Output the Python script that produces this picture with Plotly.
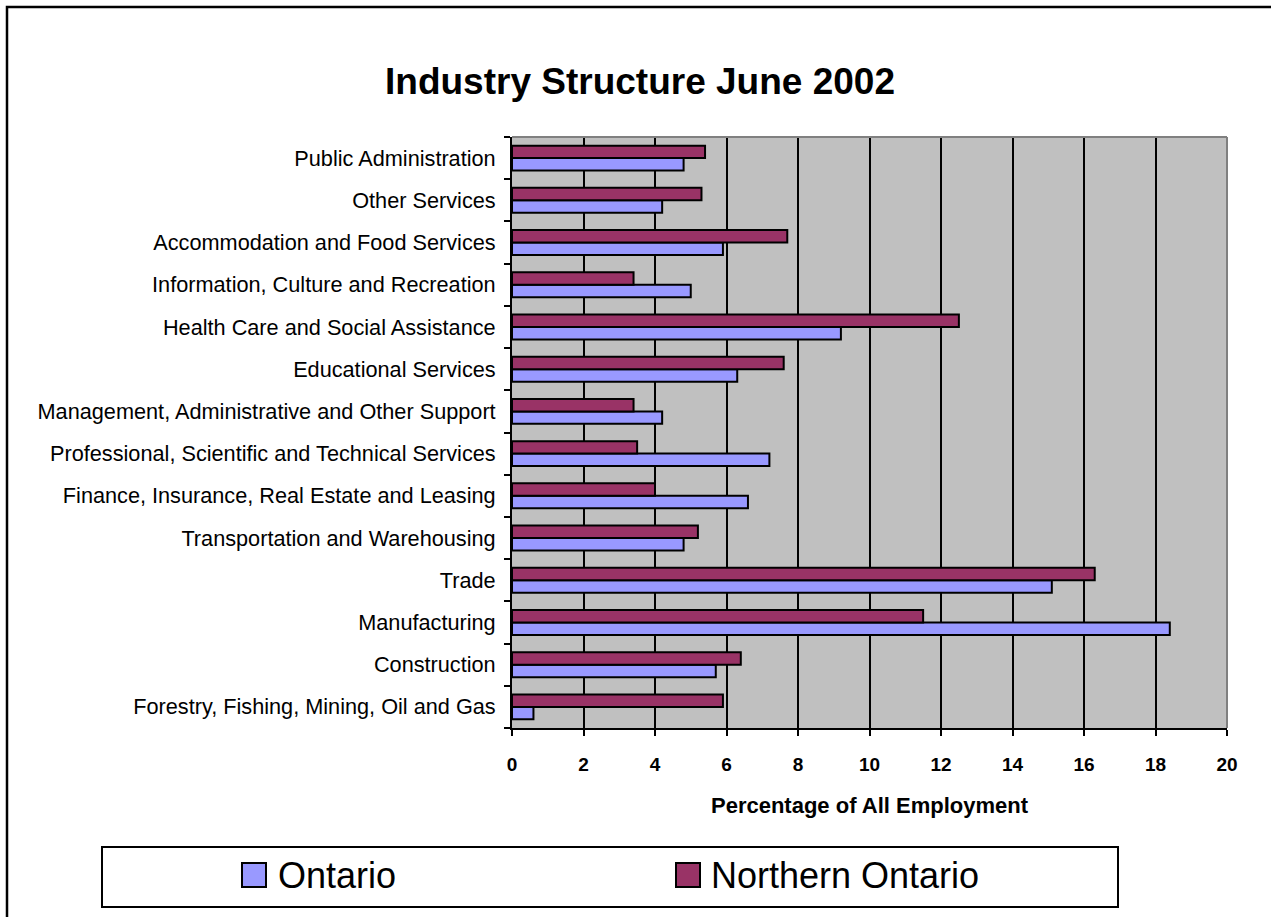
import plotly.graph_objects as go

categories = [
    "Forestry, Fishing, Mining, Oil and Gas",
    "Construction",
    "Manufacturing",
    "Trade",
    "Transportation and Warehousing",
    "Finance, Insurance, Real Estate and Leasing",
    "Professional, Scientific and Technical Services",
    "Management, Administrative and Other Support",
    "Educational Services",
    "Health Care and Social Assistance",
    "Information, Culture and Recreation",
    "Accommodation and Food Services",
    "Other Services",
    "Public Administration",
]
ontario = [0.6, 5.7, 18.4, 15.1, 4.8, 6.6, 7.2, 4.2, 6.3, 9.2, 5.0, 5.9, 4.2, 4.8]
northern_ontario = [5.9, 6.4, 11.5, 16.3, 5.2, 4.0, 3.5, 3.4, 7.6, 12.5, 3.4, 7.7, 5.3, 5.4]
x_ticks = [0, 2, 4, 6, 8, 10, 12, 14, 16, 18, 20]
series_names = ["Ontario", "Northern Ontario"]
series_colors = ["#9999FF", "#993366"]

W, H = 1271, 917
PL, PR, PT, PB = 512, 1227, 137, 728


def px_x(p):
    return (p - PL) / (PR - PL)


def px_y(p):
    return (PB - p) / (PB - PT)


FONT = "Liberation Sans, Arial, sans-serif"

fig = go.Figure()
for name, vals, col in zip(series_names, [ontario, northern_ontario], series_colors):
    fig.add_trace(go.Bar(
        y=categories, x=vals, name=name, orientation="h", showlegend=False,
        marker=dict(color=col, line=dict(color="black", width=2)),
    ))

shapes = [
    # outer chart border (extends beyond the visible window on right/bottom)
    dict(type="rect", xref="paper", yref="paper",
         x0=px_x(7), x1=px_x(1290), y0=px_y(7), y1=px_y(940),
         line=dict(color="black", width=2.5), fillcolor="rgba(0,0,0,0)", layer="above"),
    # gray plot frame top and right
    dict(type="line", xref="paper", yref="paper", x0=0, x1=1, y0=1, y1=1,
         line=dict(color="#808080", width=2), layer="above"),
    dict(type="line", xref="paper", yref="paper", x0=1, x1=1, y0=0, y1=1,
         line=dict(color="#808080", width=2), layer="above"),
    # legend box
    dict(type="rect", xref="paper", yref="paper",
         x0=px_x(102), x1=px_x(1118), y0=px_y(847), y1=px_y(907),
         line=dict(color="black", width=2), fillcolor="white", layer="below"),
]
annotations = []
legend_sq_left = [242, 676]
legend_txt_left = [276, 709]
for name, col, sq, tx in zip(series_names, series_colors, legend_sq_left, legend_txt_left):
    shapes.append(dict(type="rect", xref="paper", yref="paper",
                       x0=px_x(sq), x1=px_x(sq + 24), y0=px_y(863), y1=px_y(887),
                       line=dict(color="black", width=2), fillcolor=col, layer="above"))
    annotations.append(dict(text=name, xref="paper", yref="paper",
                            x=px_x(tx), y=px_y(875), xanchor="left", yanchor="middle",
                            showarrow=False,
                            font=dict(size=36, family=FONT, color="black")))

fig.update_layout(
    width=W, height=H,
    margin=dict(l=PL, r=W - PR, t=PT, b=H - PB, pad=0),
    paper_bgcolor="white",
    plot_bgcolor="#C0C0C0",
    barmode="group",
    bargap=0.41,
    bargroupgap=0,
    font=dict(family=FONT, color="black"),
    title=dict(text="Industry Structure June 2002", xref="container", yref="container",
               x=640 / W, xanchor="center", y=1 - 81 / H, yanchor="middle",
               font=dict(size=37, weight="bold", family=FONT, color="black")),
    shapes=shapes,
    annotations=annotations,
    showlegend=False,
    xaxis=dict(range=[0, 20], tickvals=x_ticks, ticktext=[str(v) for v in x_ticks],
               showgrid=True, gridcolor="black", gridwidth=2,
               showline=True, linecolor="black", linewidth=2,
               ticks="outside", ticklen=6, tickwidth=2, tickcolor="black",
               ticklabelstandoff=12,
               tickfont=dict(size=19, weight="bold", family=FONT),
               zeroline=False, fixedrange=True,
               title=dict(text="Percentage of All Employment", standoff=24,
                          font=dict(size=22, weight="bold", family=FONT))),
    yaxis=dict(showline=True, linecolor="black", linewidth=2,
               ticks="outside", ticklen=6, tickwidth=2, tickcolor="black",
               tickson="boundaries", showgrid=False, ticklabelstandoff=10,
               tickfont=dict(size=21.7, family=FONT), fixedrange=True),
)

fig.write_html("out.html")
